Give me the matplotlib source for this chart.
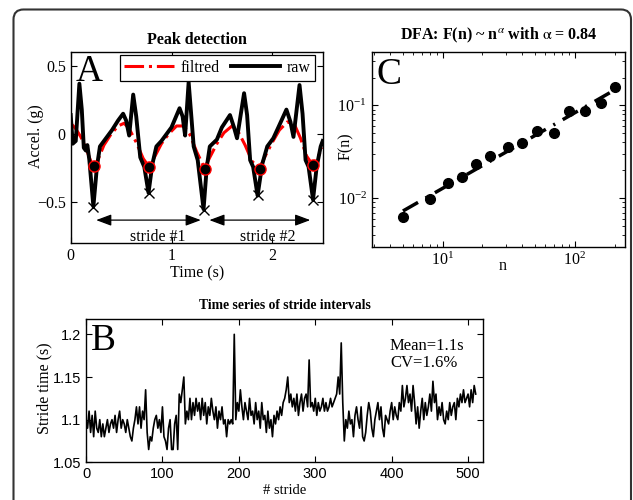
import numpy as np
import matplotlib
matplotlib.use('Agg')
import matplotlib.pyplot as plt
from matplotlib.patches import FancyBboxPatch
from matplotlib.ticker import NullFormatter

plt.rcParams['font.family'] = ['Liberation Serif', 'DejaVu Serif']
plt.rcParams['mathtext.fontset'] = 'stix'
plt.rcParams['font.size'] = 11.5

# --- panel A: raw and filtered acceleration ---
t_raw = [0.00, 0.02, 0.05, 0.086, 0.11, 0.13, 0.15, 0.165, 0.185, 0.225, 0.26, 0.29, 0.33,
         0.36, 0.41, 0.47, 0.52, 0.55, 0.58, 0.62, 0.65, 0.69, 0.73, 0.772, 0.81, 0.85, 0.90,
         0.95, 1.00, 1.08, 1.11, 1.135, 1.17, 1.20, 1.22, 1.26, 1.318, 1.35, 1.38, 1.45, 1.50,
         1.58, 1.62, 1.65, 1.72, 1.75, 1.78, 1.81, 1.854, 1.90, 1.95, 2.01, 2.06, 2.14, 2.18,
         2.21, 2.27, 2.30, 2.33, 2.36, 2.404, 2.44, 2.48, 2.50]
a_raw = [0.14, -0.07, -0.05, 0.37, 0.18, -0.10, -0.12, -0.08, -0.19, -0.53, -0.24, -0.09, -0.05,
         -0.02, 0.03, 0.10, 0.15, 0.10, -0.01, 0.29, 0.13, -0.17, -0.24, -0.43, -0.22, -0.09, -0.05,
         0.00, 0.05, 0.19, 0.13, -0.01, 0.38, 0.10, -0.09, -0.19, -0.55, -0.24, -0.09, -0.04, 0.05,
         0.14, 0.05, -0.03, 0.30, 0.14, -0.19, -0.24, -0.45, -0.22, -0.09, -0.03, 0.05, 0.18, 0.09,
         -0.02, 0.36, 0.15, -0.19, -0.24, -0.48, -0.24, -0.09, -0.05]

t_filt = [0.00, 0.05, 0.10, 0.15, 0.20, 0.235, 0.28, 0.33, 0.40, 0.47, 0.53, 0.58, 0.65, 0.72,
          0.778, 0.83, 0.90, 0.97, 1.05, 1.12, 1.18, 1.25, 1.328, 1.38, 1.45, 1.52, 1.60, 1.66,
          1.73, 1.80, 1.874, 1.93, 2.00, 2.07, 2.15, 2.22, 2.28, 2.34, 2.404, 2.45, 2.50]
a_filt = [0.08, 0.04, -0.02, -0.10, -0.20, -0.23, -0.17, -0.08, 0.00, 0.06, 0.08, 0.04, -0.06, -0.18,
          -0.24, -0.17, -0.07, 0.00, 0.06, 0.06, 0.00, -0.13, -0.25, -0.17, -0.07, 0.01, 0.06, 0.02,
          -0.08, -0.20, -0.25, -0.16, -0.06, 0.03, 0.09, 0.07, -0.03, -0.16, -0.23, -0.17, -0.10]

# detected minima
t_circ = [0.232, 0.778, 1.328, 1.874, 2.404]
a_circ = [-0.232, -0.24, -0.252, -0.252, -0.227]
t_cross = [0.225, 0.772, 1.318, 1.854, 2.404]
a_cross = [-0.533, -0.43, -0.557, -0.447, -0.484]

# --- panel B: stride intervals (every 2nd stride) ---
stride_vals = [
    1.10, 1.09, 1.11, 1.085, 1.105, 1.08, 1.11, 1.09, 1.085, 1.10,
    1.08, 1.095, 1.08, 1.09, 1.10, 1.085, 1.095, 1.10, 1.09, 1.105,
    1.085, 1.10, 1.11, 1.09, 1.10, 1.095, 1.085, 1.10, 1.09, 1.08,
    1.075, 1.09, 1.10, 1.115, 1.095, 1.115, 1.09, 1.11, 1.10, 1.135,
    1.085, 1.065, 1.08, 1.075, 1.09, 1.10, 1.105, 1.09, 1.10, 1.085,
    1.115, 1.08, 1.075, 1.065, 1.09, 1.10, 1.065, 1.065, 1.095, 1.105,
    1.065, 1.13, 1.12, 1.135, 1.15, 1.095, 1.11, 1.10, 1.125, 1.10,
    1.12, 1.105, 1.125, 1.11, 1.12, 1.10, 1.125, 1.105, 1.12, 1.095,
    1.115, 1.105, 1.125, 1.11, 1.10, 1.115, 1.09, 1.11, 1.10, 1.115,
    1.095, 1.10, 1.08, 1.10, 1.095, 1.10, 1.095, 1.20, 1.10, 1.12,
    1.11, 1.135, 1.115, 1.10, 1.12, 1.11, 1.10, 1.125, 1.105, 1.11,
    1.095, 1.12, 1.10, 1.11, 1.09, 1.12, 1.10, 1.105, 1.085, 1.11,
    1.09, 1.10, 1.08, 1.105, 1.095, 1.11, 1.10, 1.115, 1.105, 1.12,
    1.125, 1.135, 1.15, 1.12, 1.13, 1.115, 1.125, 1.11, 1.13, 1.105,
    1.12, 1.13, 1.11, 1.125, 1.13, 1.115, 1.17, 1.115, 1.12, 1.11,
    1.125, 1.105, 1.12, 1.11, 1.115, 1.125, 1.11, 1.12, 1.11, 1.115,
    1.125, 1.115, 1.12, 1.125, 1.13, 1.15, 1.13, 1.19, 1.12, 1.075,
    1.10, 1.09, 1.11, 1.095, 1.10, 1.08, 1.105, 1.115, 1.10, 1.09,
    1.115, 1.08, 1.075, 1.085, 1.105, 1.12, 1.11, 1.09, 1.08, 1.10,
    1.11, 1.12, 1.10, 1.115, 1.09, 1.08, 1.105, 1.10, 1.095, 1.11,
    1.12, 1.10, 1.115, 1.105, 1.10, 1.12, 1.11, 1.14, 1.115, 1.125,
    1.14, 1.12, 1.13, 1.11, 1.14, 1.12, 1.095, 1.115, 1.09, 1.11,
    1.125, 1.10, 1.12, 1.105, 1.115, 1.13, 1.11, 1.145, 1.12, 1.13,
    1.10, 1.115, 1.105, 1.12, 1.10, 1.095, 1.11, 1.10, 1.12, 1.105,
    1.115, 1.12, 1.10, 1.125, 1.115, 1.13, 1.12, 1.135, 1.12, 1.125,
    1.13, 1.115, 1.135, 1.12, 1.14, 1.13]
stride_idx = np.arange(len(stride_vals)) * 2

# --- panel C: DFA ---
dfa_n = [5, 8, 11, 14, 18, 23, 31, 40, 52, 70, 91, 119, 159, 200]
dfa_F = [0.0062, 0.0099, 0.0145, 0.0171, 0.0235, 0.0284, 0.0355, 0.0396, 0.0537, 0.0502,
         0.0868, 0.0868, 0.107, 0.157]

fig = plt.figure(figsize=(6.33, 5), dpi=100)

# rounded frame around the figure
frame = FancyBboxPatch((0.135, -0.5), 6.175, 5.405, boxstyle='round,pad=0,rounding_size=0.1',
                       transform=fig.dpi_scale_trans, fill=False, edgecolor='#333333', lw=1.5)
fig.patches.append(frame)

def style_axes(ax):
    ax.tick_params(direction='in', top=True, right=True, length=4, width=0.8)
    ax.tick_params(which='minor', direction='in', top=True, right=True, length=2, width=0.6)
    for s in ax.spines.values():
        s.set_linewidth(1.0)

# Panel A
axA = fig.add_axes([0.1117, 0.5134, 0.3981, 0.382])
axA.plot(t_filt, a_filt, color='red', lw=2.2, ls='-.', label='filtred', zorder=2)
axA.plot(t_raw, a_raw, color='black', lw=2.8, label='raw', zorder=3)
axA.plot(t_circ, a_circ, 'o', ms=8, mfc='black', mec='red', mew=1.0, zorder=5)
axA.plot(t_cross, a_cross, 'x', ms=7, color='black', mew=1.0, zorder=4)
arrow_y = -0.63
for i0, i1, lab in [(0, 2, 'stride #1'), (2, 4, 'stride #2')]:
    axA.annotate('', xy=(t_cross[i1], arrow_y), xytext=(t_cross[i0] + (0.03 if i0 else 0), arrow_y),
                 arrowprops=dict(arrowstyle='<|-|>,head_length=0.8,head_width=0.3',
                                 color='black', lw=0.9))
    axA.text((t_cross[i0] + t_cross[i1]) / 2 + 0.09, -0.755, lab, ha='center', va='center')
axA.set_xlim(0, 2.5)
axA.set_ylim(-0.8, 0.6)
axA.set_xticks([0, 1, 2])
axA.set_yticks([-0.5, 0, 0.5])
axA.set_yticklabels(['\u22120.5', '0', '0.5'])
axA.set_xlabel('Time (s)', labelpad=1)
axA.set_ylabel('Accel. (g)')
axA.yaxis.set_label_coords(-0.105, 0.56)
axA.set_title('Peak detection', fontweight='bold', fontsize=11.5, pad=6)
axA.text(0.02, 0.85, 'A', transform=axA.transAxes, fontsize=27, va='baseline')
leg = axA.legend(loc='upper right', bbox_to_anchor=(0.97, 0.985), ncol=2, handlelength=3.1,
                 handletextpad=0.4, columnspacing=0.7, borderpad=0.3, borderaxespad=0,
                 fancybox=False, framealpha=1, edgecolor='black')
leg.get_frame().set_linewidth(0.9)
style_axes(axA)

# Panel C
axC = fig.add_axes([0.5872, 0.5066, 0.4002, 0.39])
logn = np.log10(dfa_n)
logF = np.log10(dfa_F)
slope, icpt = np.polyfit(logn, logF, 1)
n_fit = np.array([dfa_n[0], dfa_n[-1]])
axC.plot(n_fit, 10 ** icpt * n_fit ** slope, color='black', lw=2.5, dashes=(5, 2.5, 0.6, 2.5))
axC.plot(dfa_n, dfa_F, 'o', color='black', ms=7)
axC.set_xscale('log')
axC.set_yscale('log')
axC.set_xlim(2.9, 240)
axC.set_ylim(0.003, 0.38)
axC.xaxis.set_minor_formatter(NullFormatter())
axC.yaxis.set_minor_formatter(NullFormatter())
axC.set_xlabel('n')
axC.xaxis.set_label_coords(0.515, -0.06)
axC.set_ylabel('F(n)')
axC.yaxis.set_label_coords(-0.07, 0.513)
axC.set_title(r'DFA: F(n) ~ n$^{\alpha}$ with $\mathrm{\alpha}$ = 0.84', fontweight='bold',
              fontsize=11.5, pad=9)
axC.text(0.02, 0.834, 'C', transform=axC.transAxes, fontsize=27, va='baseline')
style_axes(axC)

# Panel B
axB = fig.add_axes([0.1359, 0.0754, 0.6277, 0.2866])
axB.plot(stride_idx, stride_vals, color='black', lw=1.2)
axB.set_xlim(0, 520)
axB.set_ylim(1.05, 1.218)
axB.set_xticks([0, 100, 200, 300, 400, 500])
axB.set_yticks([1.05, 1.1, 1.15, 1.2])
axB.set_yticklabels(['1.05', '1.1', '1.15', '1.2'])
for lbl in axB.get_xticklabels() + axB.get_yticklabels():
    lbl.set_family('Liberation Sans')
    lbl.set_fontsize(10.5)
axB.set_xlabel('# stride', fontsize=10.5)
axB.xaxis.set_label_coords(0.5, -0.15)
axB.set_ylabel('Stride time (s)')
axB.yaxis.set_label_coords(-0.085, 0.52)
axB.set_title('Time series of stride intervals', fontweight='bold', fontsize=9.8, pad=7)
axB.text(0.012, 0.784, 'B', transform=axB.transAxes, fontsize=27, va='baseline')
axB.text(0.765, 0.81, 'Mean=1.1s', transform=axB.transAxes, fontsize=12, va='center')
axB.text(0.765, 0.69, 'CV=1.6%', transform=axB.transAxes, fontsize=12, va='center')
style_axes(axB)

fig.savefig('out.png', dpi=100)
